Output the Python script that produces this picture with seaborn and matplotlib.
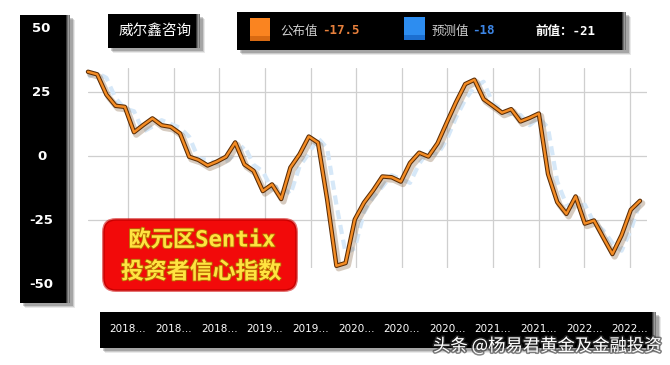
# 欧元区Sentix投资者信心指数 - recreación del gráfico
import numpy as np
import pandas as pd
import matplotlib
matplotlib.use('Agg')
import matplotlib.pyplot as plt
import matplotlib.patheffects as pe
from matplotlib.patches import Rectangle, FancyBboxPatch
from matplotlib.transforms import Affine2D, blended_transform_factory
import seaborn as sns

sns.set_theme(style='white')
plt.rcParams['font.family'] = ['DejaVu Sans', 'Noto Sans CJK SC']

W, H = 670, 365

# --- datos (mensual, 2018-01 .. 2023-01) ---
published = [32.9, 31.9, 24.0, 19.6, 19.2, 9.3, 12.1, 14.7, 12.0, 11.4, 8.8, -0.3,
             -1.5, -3.7, -2.2, -0.3, 5.3, -3.3, -5.8, -13.7, -11.1, -16.8, -4.5, 0.7,
             7.6, 5.2, -17.1, -42.9, -41.8, -24.8, -18.2, -13.4, -8.0, -8.3, -10.0, -2.7,
             1.3, -0.2, 5.0, 13.1, 21.0, 28.1, 29.8, 22.2, 19.6, 16.9, 18.3, 13.5,
             14.9, 16.6, -7.0, -18.0, -22.6, -15.8, -26.4, -25.2, -31.8, -38.3, -30.9, -21.0,
             -17.5]
forecast = [31.0, 32.5, 30.5, 22.5, 18.5, 17.5, 9.5, 11.5, 14.0, 12.5, 11.0, 7.5,
            -1.0, -1.5, -3.0, -2.0, 0.5, 4.0, -3.5, -6.0, -13.0, -11.5, -15.0, -4.0,
            1.0, 7.0, 3.0, -19.0, -38.0, -36.0, -22.0, -16.0, -12.0, -7.5, -9.0, -10.5,
            -3.0, 2.0, 0.5, 6.5, 15.0, 22.0, 27.0, 29.0, 20.5, 18.0, 16.5, 16.0,
            12.0, 15.0, 11.0, -10.0, -19.0, -20.0, -19.0, -26.0, -29.0, -34.0, -37.0, -29.0,
            -18.0]
x_tick_labels = ['2018…', '2018…', '2018…', '2019…', '2019…', '2020…',
                 '2020…', '2020…', '2021…', '2021…', '2022…', '2022…']
y_tick_values = [50, 25, 0, -25, -50]
grid_y = [-25, 0, 25]

df = pd.DataFrame({'idx': np.arange(len(published)),
                   '公布值': published, '预测值': forecast})

fig = plt.figure(figsize=(W / 100, H / 100), dpi=100)
fig.patch.set_facecolor('white')
pxt = Affine2D().scale(1 / W, 1 / H) + fig.transFigure


def black_box(x0, y0, x1, y1, z=-2, bevel=True):
    # sombra difusa + caja negra + borde biselado gris
    for k, a in enumerate([0.10, 0.16, 0.24]):
        off = 5 - k
        fig.add_artist(Rectangle((x0 + off, H - y1 - off), x1 - x0, y1 - y0,
                                 transform=pxt, color='#303030', alpha=a, lw=0, zorder=z - 1))
    fig.add_artist(Rectangle((x0, H - y1), x1 - x0, y1 - y0, transform=pxt,
                             color='black', lw=0, zorder=z))
    if bevel:
        for k, c in enumerate(['#3a3a3a', '#6e6e6e', '#9a9a9a', '#767676']):
            fig.add_artist(Rectangle((x1 - 4 + k, H - y1), 1, y1 - y0, transform=pxt,
                                     color=c, lw=0, zorder=z))


# --- paneles negros ---
black_box(20, 15, 70, 303)
black_box(108, 14, 200, 48)
black_box(237, 12, 626, 50)
black_box(100, 312, 656, 348)

# --- eje principal ---
ax = fig.add_axes([88 / W, 1 - 268 / H, 559 / W, 200 / H])
ax.set_facecolor('white')

sns.lineplot(data=df, x='idx', y='预测值', ax=ax, color='#d6e8f8', linewidth=3)
fc_line = ax.lines[-1]
fc_line.set_dashes((2.2, 1.4))
fc_line.set_clip_on(False)

sns.lineplot(data=df, x='idx', y='公布值', ax=ax, color='#f48c24', linewidth=1.7)
pub_line = ax.lines[-1]
pub_line.set_clip_on(False)
pub_line.set_path_effects([
    pe.SimpleLineShadow(offset=(1.6, -1.8), shadow_color='#7a5530', alpha=0.3, linewidth=4.5),
    pe.Stroke(linewidth=3.2, foreground='#5a2c05'),
    pe.Normal(),
])

ax.set_xlim(0, 60.76)
ax.set_ylim(-43.75, 34.375)
tick_pos = np.linspace(4.35, 58.9, len(x_tick_labels))
ax.set_xticks(tick_pos, labels=x_tick_labels)
ax.set_yticks(grid_y, labels=[])
ax.grid(True, color='#cfcfcf', linewidth=0.9)
ax.tick_params(axis='x', length=0, pad=40, labelsize=7.5, labelcolor='white')
ax.tick_params(axis='y', length=0)
ax.set_xlabel('')
ax.set_ylabel('')
for s in ax.spines.values():
    s.set_visible(False)

# --- panel del eje y ---
ay = fig.add_axes([20 / W, 1 - 303 / H, 46 / W, 288 / H])
ay.set_facecolor('black')
ay.set_ylim(-57.42, 55.08)
ay.set_xlim(0, 1)
ay.set_xticks([])
ay.set_yticks([])
for s in ay.spines.values():
    s.set_visible(False)
tr = blended_transform_factory(ay.transAxes, ay.transData)
for v in y_tick_values:
    ay.text(0.47, v, f'{v}', transform=tr, color='white', fontsize=9.5,
            fontweight='bold', ha='center', va='center')

# --- títulos y leyenda ---
cjk = ['Noto Sans CJK SC', 'DejaVu Sans']
mono = ['DejaVu Sans Mono', 'Noto Sans CJK SC']
fig.text(155 / W, 1 - 31 / H, '威尔鑫咨询', color='white', fontsize=10.5,
         family=cjk, ha='center', va='center')

fig.add_artist(Rectangle((250, H - 41), 20, 23, transform=pxt, color='#fa8420', lw=0))
fig.add_artist(Rectangle((250, H - 41), 20, 5, transform=pxt, color='#d86a12', lw=0))
fig.add_artist(Rectangle((404, H - 40), 21, 23, transform=pxt, color='#2d8df0', lw=0))
fig.add_artist(Rectangle((404, H - 40), 21, 5, transform=pxt, color='#1c6fd0', lw=0))

fig.text(280 / W, 1 - 31 / H, '公布值', color='#cfcfcf', fontsize=9, family=cjk,
         ha='left', va='center')
fig.text(322 / W, 1 - 31 / H, '-17.5', color='#e8803c', fontsize=9, family=mono,
         fontweight='bold', ha='left', va='center')
fig.text(432 / W, 1 - 31 / H, '预测值', color='#cfcfcf', fontsize=9, family=cjk,
         ha='left', va='center')
fig.text(472 / W, 1 - 31 / H, '-18', color='#3d86e6', fontsize=9, family=mono,
         fontweight='bold', ha='left', va='center')
fig.text(535 / W, 1 - 31 / H, '前值：-21', color='white', fontsize=9, family=mono,
         fontweight='bold', ha='left', va='center')

# --- cartel rojo ---
fig.add_artist(FancyBboxPatch((102, H - 292), 196, 74,
                              boxstyle='round,pad=0,rounding_size=14', transform=pxt,
                              facecolor='#d00000', edgecolor='none', alpha=0.55, zorder=8))
fig.add_artist(FancyBboxPatch((104, H - 290), 192, 70,
                              boxstyle='round,pad=0,rounding_size=12', transform=pxt,
                              facecolor='#f20a0a', edgecolor='#c80000', lw=1, zorder=9))
yellow_fx = [pe.withStroke(linewidth=1.3, foreground='#b86a00')]
fig.text(202 / W, 1 - 240 / H, '欧元区Sentix', color='#ffe340', fontsize=16,
         family=mono, fontweight='bold', ha='center', va='center', zorder=10,
         path_effects=yellow_fx)
fig.text(201 / W, 1 - 272 / H, '投资者信心指数', color='#ffe340', fontsize=16.5,
         family=cjk, fontweight='bold', ha='center', va='center', zorder=10,
         path_effects=yellow_fx)

# --- marca de agua ---
fig.text(433 / W, 1 - 346 / H, '头条 @杨易君黄金及金融投资', color='white', fontsize=12.5,
         family=cjk, ha='left', va='center', zorder=20,
         path_effects=[pe.withStroke(linewidth=2.2, foreground='#333333', alpha=0.6)])

fig.savefig('out.png', dpi=100, facecolor='white')
